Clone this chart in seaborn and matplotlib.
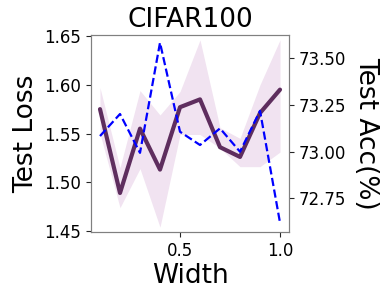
import numpy as np
import pandas as pd
import seaborn as sns
import matplotlib.pyplot as plt

# values
width = [0.1, 0.2, 0.3, 0.4, 0.5, 0.6, 0.7, 0.8, 0.9, 1.0]
test_loss = [1.575, 1.489, 1.555, 1.513, 1.577, 1.585, 1.536, 1.526, 1.571, 1.595]
loss_upper = [1.597, 1.515, 1.594, 1.569, 1.593, 1.646, 1.556, 1.545, 1.600, 1.646]
loss_lower = [1.550, 1.474, 1.514, 1.454, 1.549, 1.549, 1.535, 1.516, 1.516, 1.531]
test_acc = [73.084, 73.202, 72.994, 73.584, 73.107, 73.036, 73.125, 73.0, 73.219, 72.62]

df = pd.DataFrame({"Width": width, "loss": test_loss, "lo": loss_lower,
                   "hi": loss_upper, "acc": test_acc})

sns.set_style("ticks")
plt.rcParams['font.family'] = ['DejaVu Sans']
plt.rcParams['text.color'] = 'black'
plt.rcParams['axes.labelcolor'] = 'black'

fig = plt.figure(figsize=(3.83, 2.88), dpi=100)
ax = fig.add_axes([0.2376, 0.1944, 0.517, 0.684])

# shaded spread of the loss
ax.fill_between(df["Width"], df["lo"], df["hi"], color="#f1e3f1", linewidth=0)
sns.lineplot(data=df, x="Width", y="loss", ax=ax, color="#5e2d5e", linewidth=3)
ax.set_ylim(1.449, 1.651)
ax.set_yticks([1.45, 1.50, 1.55, 1.60, 1.65])
ax.set_xticks([0.5, 1.0])
ax.set_xlabel("Width", fontsize=19, labelpad=2)
ax.set_ylabel("Test Loss", fontsize=19)
ax.set_title("CIFAR100", fontsize=19)
ax.tick_params(labelsize=12, labelcolor="black")

ax2 = ax.twinx()
sns.lineplot(data=df, x="Width", y="acc", ax=ax2, color="blue", linewidth=1.6, linestyle="--")
ax2.set_ylim(72.57, 73.625)
ax2.set_yticks([72.75, 73.00, 73.25, 73.50])
ax2.set_ylabel("Test Acc(%)", fontsize=19, rotation=270, labelpad=24)
ax2.tick_params(labelsize=12, labelcolor="black")

for a in (ax, ax2):
    for s in a.spines.values():
        s.set_color("#808080")

plt.savefig("out.png", dpi=100)
